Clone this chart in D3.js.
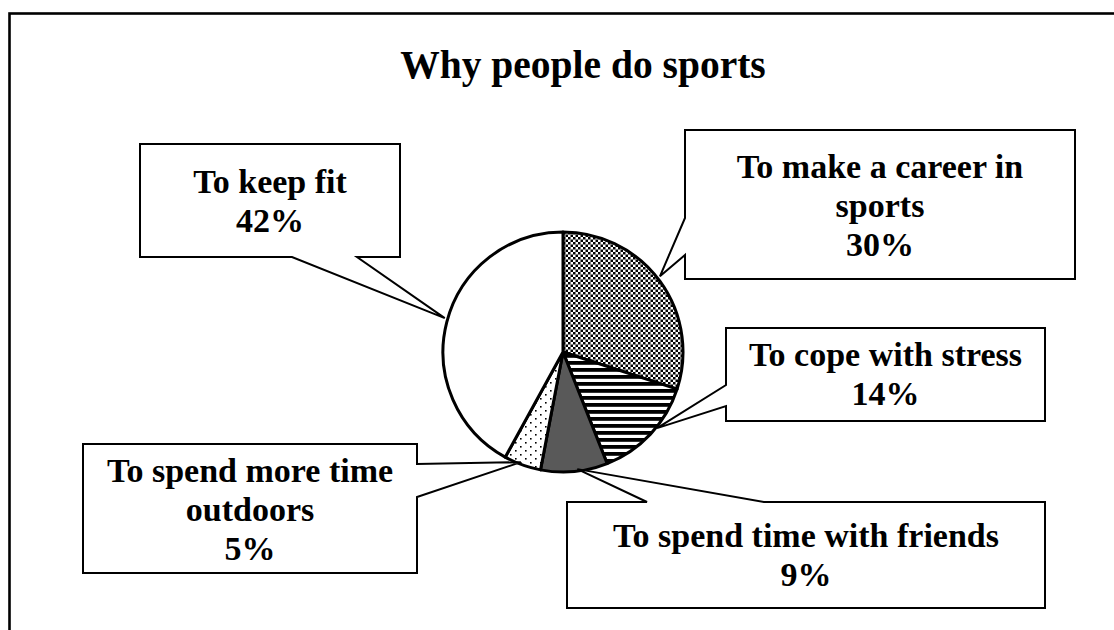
<!DOCTYPE html>
<html>
<head>
<meta charset="utf-8">
<script src="https://cdn.jsdelivr.net/npm/d3@7"></script>
<style>
  html, body { margin: 0; padding: 0; background: #fff; }
  svg { display: block; }
  text { font-family: "Liberation Serif", "Times New Roman", serif; font-weight: bold; fill: #000; }
</style>
</head>
<body>
<svg id="chart" width="1114" height="630"></svg>
<script>
// ---- data ----
const title = "Why people do sports";
const categories = ["To make a career in sports", "To cope with stress", "To spend time with friends", "To spend more time outdoors", "To keep fit"];
const values = [30, 14, 9, 5, 42];
const labelLines = [
  ["To make a career in", "sports", "30%"],
  ["To cope with stress", "14%"],
  ["To spend time with friends", "9%"],
  ["To spend more time", "outdoors", "5%"],
  ["To keep fit", "42%"]
];

// ---- layout (not data) ----
const W = 1114, H = 630;
const cx = 563, cy = 352, R = 120;
const fills = ["url(#checker)", "url(#hstripes)", "#595959", "url(#dots)", "#ffffff"];
// callout boxes: box, pointer side, pointer base positions along side, tip angle (deg, clockwise from top)
const callouts = [
  { x: 685, y: 130, w: 390, h: 149, side: "left",   b1: 218, b2: 255, tipDeg: 52,  tipR: 123, tx: 880, base: 178 },
  { x: 726, y: 328, w: 319, h: 93,  side: "left",   b1: 385, b2: 406, tipDeg: 129, tipR: 121, tx: 885.5, base: 366 },
  { x: 567, y: 502, w: 478, h: 106, side: "top",    b1: 647, b2: 764, tipDeg: 173, tipR: 118, tx: 806, base: 547 },
  { x: 83,  y: 444, w: 334, h: 129, side: "right",  b1: 464, b2: 497, tipDeg: 201, tipR: 118, tx: 250, base: 482 },
  { x: 140, y: 144, w: 260, h: 113, side: "bottom", b1: 292, b2: 357, tipDeg: 286, tipR: 123, tx: 270, base: 193 }
];
const lineH = 39;

const svg = d3.select("#chart");
const defs = svg.append("defs");

// checkerboard
const pc = defs.append("pattern").attr("id", "checker").attr("patternUnits", "userSpaceOnUse")
  .attr("width", 5).attr("height", 5);
pc.append("rect").attr("width", 5).attr("height", 5).attr("fill", "#fff");
pc.append("rect").attr("x", 0).attr("y", 0).attr("width", 2.5).attr("height", 2.5).attr("fill", "#000");
pc.append("rect").attr("x", 2.5).attr("y", 2.5).attr("width", 2.5).attr("height", 2.5).attr("fill", "#000");

// horizontal stripes
const ps = defs.append("pattern").attr("id", "hstripes").attr("patternUnits", "userSpaceOnUse")
  .attr("width", 8).attr("height", 7).attr("y", cy);
ps.append("rect").attr("width", 8).attr("height", 7).attr("fill", "#fff");
ps.append("rect").attr("y", 0).attr("width", 8).attr("height", 3.8).attr("fill", "#000");

// dots
const pd = defs.append("pattern").attr("id", "dots").attr("patternUnits", "userSpaceOnUse")
  .attr("width", 10).attr("height", 8);
pd.append("rect").attr("width", 10).attr("height", 8).attr("fill", "#fff");
pd.append("rect").attr("x", 2).attr("y", 2).attr("width", 1.6).attr("height", 1.6).attr("fill", "#000");
pd.append("rect").attr("x", 7).attr("y", 6).attr("width", 1.6).attr("height", 1.6).attr("fill", "#000");

// frame (only top and left visible)
svg.append("rect").attr("x", 9.5).attr("y", 13.5).attr("width", 1300).attr("height", 800)
  .attr("fill", "none").attr("stroke", "#000").attr("stroke-width", 2.6);

// title
svg.append("text").attr("x", 583).attr("y", 78).attr("text-anchor", "middle")
  .attr("font-size", 39.5).text(title);

// pie
const pie = d3.pie().sort(null).value(d => d)(values);
const arc = d3.arc().innerRadius(0).outerRadius(R);
const g = svg.append("g").attr("transform", `translate(${cx},${cy})`);
g.selectAll("path.slice").data(pie).join("path")
  .attr("class", "slice")
  .attr("d", arc)
  .attr("fill", (d, i) => fills[i])
  .attr("stroke", "#000").attr("stroke-width", 3).attr("stroke-linejoin", "round");

// callouts
function calloutPath(c) {
  const a = c.tipDeg * Math.PI / 180;
  const tx = cx + c.tipR * Math.sin(a), ty = cy - c.tipR * Math.cos(a);
  const x0 = c.x, y0 = c.y, x1 = c.x + c.w, y1 = c.y + c.h;
  const p = d3.path();
  p.moveTo(x0, y0);
  if (c.side === "top") { p.lineTo(Math.min(c.b1, c.b2), y0); p.lineTo(tx, ty); p.lineTo(Math.max(c.b1, c.b2), y0); }
  p.lineTo(x1, y0);
  if (c.side === "right") { p.lineTo(x1, c.b1); p.lineTo(tx, ty); p.lineTo(x1, c.b2); }
  p.lineTo(x1, y1);
  if (c.side === "bottom") { p.lineTo(c.b2, y1); p.lineTo(tx, ty); p.lineTo(c.b1, y1); }
  p.lineTo(x0, y1);
  if (c.side === "left") { p.lineTo(x0, c.b2); p.lineTo(tx, ty); p.lineTo(x0, c.b1); }
  p.closePath();
  return p.toString();
}

const cg = svg.append("g");
callouts.forEach((c, i) => {
  cg.append("path").attr("d", calloutPath(c))
    .attr("fill", "#fff").attr("stroke", "#000").attr("stroke-width", 2).attr("stroke-linejoin", "miter");
  const t = cg.append("text").attr("text-anchor", "middle").attr("font-size", 34);
  labelLines[i].forEach((ln, j) => {
    t.append("tspan").attr("x", c.tx).attr("y", c.base + j * lineH).text(ln);
  });
});
</script>
</body>
</html>
